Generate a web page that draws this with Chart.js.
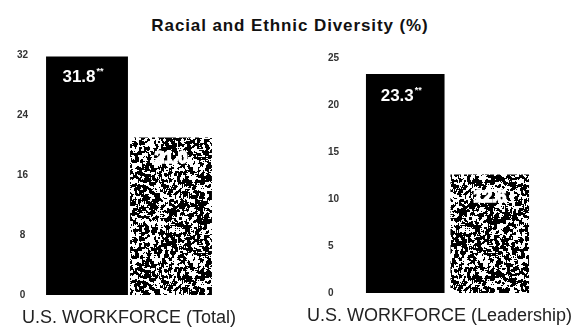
<!DOCTYPE html>
<html>
<head>
<meta charset="utf-8">
<script src="https://cdn.jsdelivr.net/npm/chart.js@4.4.1/dist/chart.umd.min.js"></script>
<style>
  body { margin: 0; background: #fff; width: 573px; height: 332px; overflow: hidden; position: relative;
         font-family: "Liberation Sans", Arial, sans-serif; }
  #title { position: absolute; left: 0; top: 16px; width: 580px; text-align: center;
           font-weight: bold; font-size: 17px; letter-spacing: 0.9px; color: #111; }
  .panel { position: absolute; top: 0; height: 332px; }
  #left { left: 0; width: 240px; }
  #right { left: 290px; width: 300px; }
</style>
</head>
<body>
<div id="title">Racial and Ethnic Diversity (%)</div>
<div class="panel" id="left"><canvas id="totalChart"></canvas></div>
<div class="panel" id="right"><canvas id="leadChart"></canvas></div>
<script>
// --- Data ---
const groups = ['U.S. WORKFORCE (Total)', 'U.S. WORKFORCE (Leadership)'];
const solidValues = [31.8, 23.3];     // black bars
const patternValues = [21.0, 12.6];   // speckled bars
const solidMarks = ['**', '**'];
const totalTicks = [0, 8, 16, 24, 32];
const leadTicks = [0, 5, 10, 15, 20, 25];

// --- Speckled fill (deterministic hash noise, smoothed into blobs) ---
function speckle() {
    const n = 96;
    const c = document.createElement('canvas');
    c.width = c.height = n;
    const g = c.getContext('2d');
    const img = g.createImageData(n, n);
    const hash = (x, y) => {
        let h = (x * 374761393 + y * 668265263) | 0;
        h = Math.imul(h ^ (h >>> 13), 1274126177);
        return ((h ^ (h >>> 16)) >>> 0) / 4294967296;
    };
    for (let y = 0; y < n; y++) {
        for (let x = 0; x < n; x++) {
            let s = 0;
            for (let dy = -1; dy <= 1; dy++)
                for (let dx = -1; dx <= 1; dx++)
                    s += hash((x + dx + n) % n, (y + dy + n) % n);
            const v = s / 9 < 0.52 ? 0 : 255;
            const k = (y * n + x) * 4;
            img.data[k] = img.data[k + 1] = img.data[k + 2] = v;
            img.data[k + 3] = 255;
        }
    }
    g.putImageData(img, 0, 0);
    return g.createPattern(c, 'repeat');
}
const pattern = speckle();

// --- Value labels drawn inside the top of each bar ---
const valueLabels = {
    id: 'valueLabels',
    afterDatasetsDraw(chart, args, opts) {
        const ctx = chart.ctx;
        chart.data.datasets.forEach((ds, i) => {
            const bar = chart.getDatasetMeta(i).data[0];
            const num = ds.data[0].toFixed(1);
            const mark = i === 0 ? opts.mark : '';
            ctx.save();
            ctx.fillStyle = '#fff';
            ctx.strokeStyle = '#fff';
            ctx.textBaseline = 'alphabetic';
            ctx.font = 'bold 17px "Liberation Sans", Arial, sans-serif';
            const w1 = ctx.measureText(num).width;
            ctx.font = 'bold 9px "Liberation Sans", Arial, sans-serif';
            const w2 = mark ? ctx.measureText(mark).width + 1 : 0;
            const x0 = bar.x - (w1 + w2) / 2 - (mark ? 4 : 0);
            const y0 = bar.y + opts.drop;
            ctx.font = 'bold 17px "Liberation Sans", Arial, sans-serif';
            ctx.textAlign = 'left';
            if (!mark) {
                ctx.lineWidth = 1.5;
                ctx.strokeText(num, x0, y0);
            }
            ctx.fillText(num, x0, y0);
            if (mark) {
                ctx.font = 'bold 9px "Liberation Sans", Arial, sans-serif';
                ctx.fillText(mark, x0 + w1 + 1, y0 - 8);
            }
            ctx.restore();
        });
    }
};

function makeChart(id, idx, ticks, cfg) {
    return new Chart(document.getElementById(id), {
        type: 'bar',
        data: {
            labels: [groups[idx]],
            datasets: [
                { data: [solidValues[idx]], backgroundColor: '#000', barPercentage: cfg.barPct, categoryPercentage: 1 },
                { data: [patternValues[idx]], backgroundColor: pattern, barPercentage: cfg.barPct, categoryPercentage: 1 }
            ]
        },
        options: {
            responsive: true,
            maintainAspectRatio: false,
            animation: false,
            layout: { padding: cfg.padding },
            scales: {
                x: {
                    grid: { display: false, drawTicks: false },
                    border: { display: false },
                    ticks: {
                        color: '#222', padding: 12, maxRotation: 0, autoSkip: false,
                        labelOffset: cfg.labelOffset,
                        font: { family: '"Liberation Sans", Arial, sans-serif', size: 18 }
                    },
                    // the long category label may spill past the bars
                    afterFit: (s) => { s.height = 37; s.paddingLeft = 0; s.paddingRight = 0; }
                },
                y: {
                    min: ticks[0],
                    max: ticks[ticks.length - 1],
                    grid: { display: false, drawTicks: false },
                    border: { display: false },
                    ticks: {
                        stepSize: ticks[1] - ticks[0],
                        color: '#333', padding: cfg.tickPad, crossAlign: cfg.align,
                        font: { family: '"Liberation Sans", Arial, sans-serif', size: 10, weight: 'bold' }
                    },
                    afterFit: (s) => { s.width = cfg.axisWidth; }
                }
            },
            plugins: {
                legend: { display: false },
                tooltip: { enabled: false },
                valueLabels: { mark: solidMarks[idx], drop: cfg.drop }
            }
        },
        plugins: [valueLabels]
    });
}

makeChart('totalChart', 0, totalTicks, {
    padding: { top: 55, left: 0, right: 27, bottom: 0 },
    axisWidth: 45, tickPad: 17, align: 'center', barPct: 0.975, labelOffset: 0, drop: 25
});
makeChart('leadChart', 1, leadTicks, {
    padding: { top: 58, left: 38, right: 58, bottom: 2 },
    axisWidth: 35, tickPad: 8, align: 'far', barPct: 0.93, labelOffset: -8, drop: 27
});
</script>
</body>
</html>
